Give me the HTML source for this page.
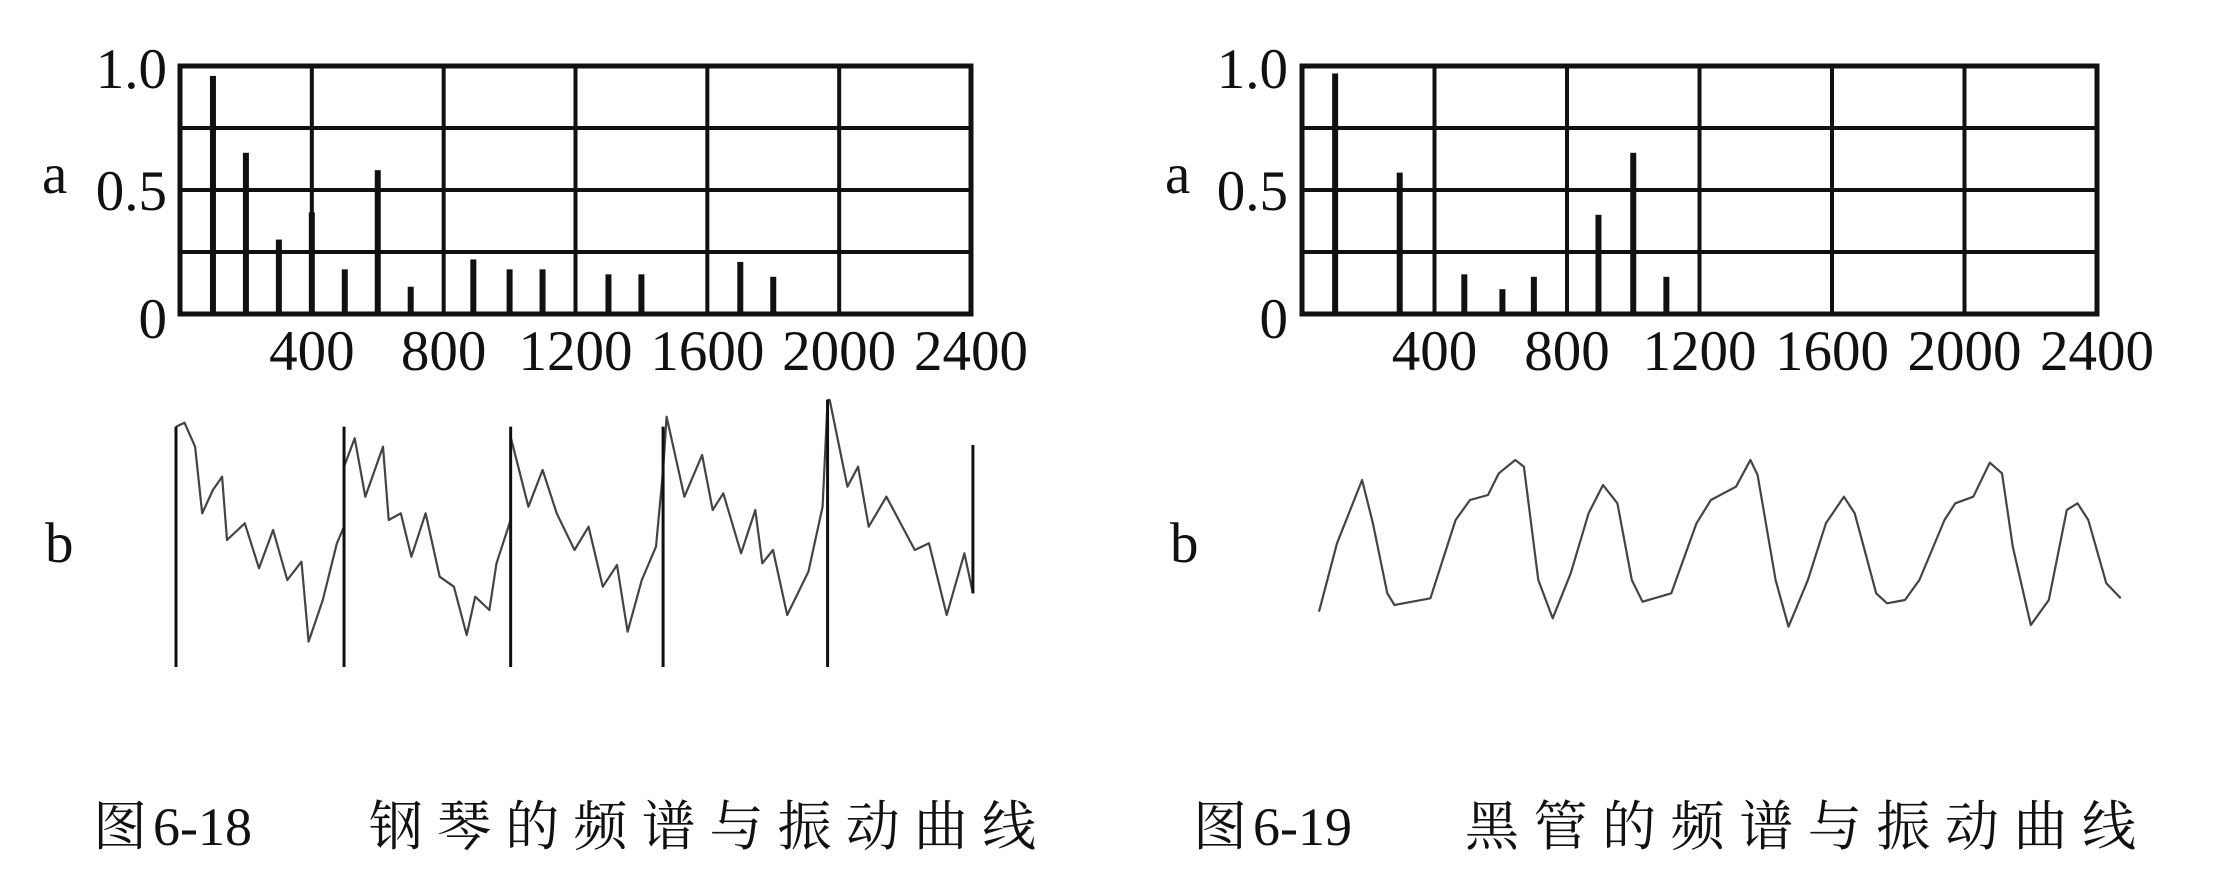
<!DOCTYPE html>
<html><head><meta charset="utf-8">
<style>
html,body{margin:0;padding:0;background:#fff;}
svg{display:block;}
text{fill:#111;}
.num{font-family:"Liberation Serif",serif;font-size:57px;}
.cap{font-family:"Liberation Serif","Noto Serif CJK SC",serif;font-size:54px;}
</style></head>
<body>
<svg id="fig" width="2215" height="892" viewBox="0 0 2215 892" xmlns="http://www.w3.org/2000/svg">
<g id="p1"></g>
<g id="p2"></g>
<g id="w1"></g>
<g id="w2"></g>
<text class="num" x="42" y="193">a</text>
<text class="num" x="1165" y="193">a</text>
<text class="num" x="45" y="562">b</text>
<text class="num" x="1170" y="562">b</text>
<text class="cap" x="93" y="845">图<tspan dx="6">6-18</tspan></text>
<text class="cap" x="369" y="845" textLength="667" lengthAdjust="spacing">钢琴的频谱与振动曲线</text>
<text class="cap" x="1193" y="845">图<tspan dx="6">6-19</tspan></text>
<text class="cap" x="1465" y="845" textLength="671" lengthAdjust="spacing">黑管的频谱与振动曲线</text>
</svg>
<script>
// Spectrum data
const xTicks = [400, 800, 1200, 1600, 2000, 2400];
const yTickLabels = ["1.0", "0.5", "0"];
const yTickValues = [1.0, 0.5, 0];
const pianoFreqs = [100, 200, 300, 400, 500, 600, 700, 890, 1000, 1100, 1300, 1400, 1700, 1800];
const pianoAmps  = [0.96, 0.65, 0.30, 0.41, 0.18, 0.58, 0.11, 0.22, 0.18, 0.18, 0.16, 0.16, 0.21, 0.15];
const clarFreqs = [100, 295, 490, 605, 700, 895, 1000, 1100];
const clarAmps  = [0.97, 0.57, 0.16, 0.10, 0.15, 0.40, 0.65, 0.15];
// Waveform traces (time units, amplitude units; larger amp = lower)
const pianoT = [0,12,27,37,52,65,72,97,117,137,157,177,187,207,227,237,237,252,267,292,300,317,332,352,372,392,410,422,442,452,472,472,497,517,537,562,582,602,622,637,657,677,687,692,717,742,757,772,797,817,827,842,862,892,912,919,922,947,962,977,1002,1042,1062,1087,1112,1124];
const pianoA = [140,128,200,400,330,290,480,430,565,450,600,545,785,660,490,440,260,175,350,200,420,400,530,400,590,620,765,650,690,550,420,170,380,270,400,510,440,620,555,755,600,500,270,110,350,225,390,340,520,390,550,510,705,575,380,60,60,320,260,440,350,510,490,705,520,640];
const pianoCuts = [0, 237, 472, 687, 919, 1124];
const clarT = [305,330,365,380,400,410,460,495,515,540,555,578,590,610,630,655,680,700,720,740,755,795,830,850,885,905,915,940,958,985,1010,1035,1050,1080,1095,1120,1140,1175,1190,1215,1238,1255,1270,1295,1320,1345,1360,1375,1400,1420];
const clarA = [695,490,300,430,640,675,655,420,360,345,280,240,260,600,715,580,400,315,370,600,665,640,430,360,320,240,285,600,740,600,430,350,400,640,670,660,600,420,370,350,248,280,500,735,660,390,370,420,610,655];

const NS = "http://www.w3.org/2000/svg";
function mk(parent, tag, attrs){
  const e = document.createElementNS(NS, tag);
  for (const k in attrs) e.setAttribute(k, attrs[k]);
  parent.appendChild(e);
  return e;
}

function spectrum(gid, x0, x1, y0, y1, freqs, amps, lblRight, prefix){
  const g = document.getElementById(gid);
  const xs = f => x0 + (f / 2400) * (x1 - x0);
  const ys = a => y1 - a * (y1 - y0);
  // horizontal gridlines
  for (let i = 1; i < 4; i++) {
    const v = i * 0.25;
    const l = mk(g, "line", {x1: x0, x2: x1, y1: ys(v), y2: ys(v), stroke: "#111", "stroke-width": 4});
    
    
  }
  // vertical gridlines
  for (let i = 0; i < xTicks.length - 1; i++) {
    const l = mk(g, "line", {x1: xs(xTicks[i]), x2: xs(xTicks[i]), y1: y0, y2: y1, stroke: "#111", "stroke-width": 4});
    
    
  }
  // bars
  for (let i = 0; i < freqs.length; i++) {
    const b = mk(g, "rect", {x: xs(freqs[i]) - 3, y: ys(amps[i]), width: 6, height: y1 - ys(amps[i]), fill: "#111"});
    
    
  }
  // frame
  const fr = mk(g, "rect", {x: x0, y: y0, width: x1 - x0, height: y1 - y0, fill: "none", stroke: "#111", "stroke-width": 5});
  
  
  // x tick labels
  for (let i = 0; i < xTicks.length; i++) {
    const t = mk(g, "text", {x: xs(xTicks[i]), y: 370, "text-anchor": "middle", "class": "num"});
    t.textContent = xTicks[i];
    
    
  }
  // y tick labels
  const ybase = [88, 210, 338];
  for (let i = 0; i < yTickLabels.length; i++) {
    const t = mk(g, "text", {x: lblRight, y: ybase[i], "text-anchor": "end", "class": "num"});
    t.textContent = yTickLabels[i];
    
    
  }
}
spectrum("p1", 180, 971, 66, 314, pianoFreqs, pianoAmps, 167, "piano");
spectrum("p2", 1302, 2097, 66, 314, clarFreqs, clarAmps, 1288, "clarinet");

// waveforms
function wave(gid, T, A, xOff, xk, prefix){
  const g = document.getElementById(gid);
  const xw = t => xOff + t * xk;
  const yw = a => 380 + a / 3;
  let d = "";
  for (let i = 0; i < T.length; i++) d += (i ? "L" : "M") + xw(T[i]).toFixed(1) + " " + yw(A[i]).toFixed(1);
  const p = mk(g, "path", {d: d, fill: "none", stroke: "#444", "stroke-width": 2.2, "stroke-linejoin": "round"});
  
  
  return {g, xw, yw};
}
const pw = wave("w1", pianoT, pianoA, 176, 0.709, "piano");
for (let i = 0; i < pianoCuts.length; i++) {
  const last = i === pianoCuts.length - 1;
  const l = mk(pw.g, "line", {x1: pw.xw(pianoCuts[i]), x2: pw.xw(pianoCuts[i]), y1: last ? pw.yw(195) : pw.yw(i===4?60:140), y2: last ? pw.yw(640) : 667, stroke: "#111", "stroke-width": 3});
  
  
}
wave("w2", clarT.map(t => t - 305), clarA, 1319, 0.719, "clarinet");
</script>
</body></html>
